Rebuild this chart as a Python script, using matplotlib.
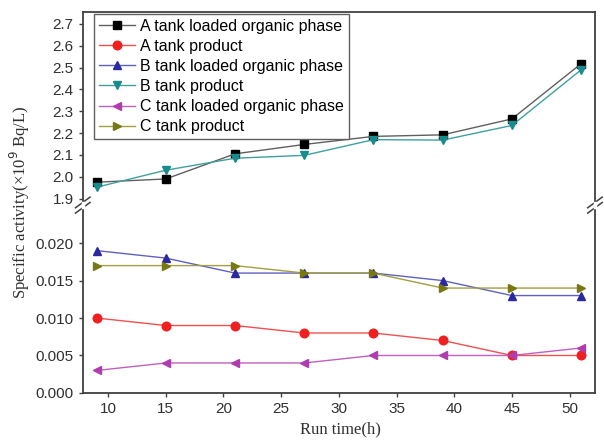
import matplotlib.pyplot as plt
from matplotlib.lines import Line2D

run_time = [9, 15, 21, 27, 33, 39, 45, 51]

a_loaded = [1.975, 1.99, 2.105, 2.148, 2.185, 2.192, 2.265, 2.518]
b_product = [1.952, 2.03, 2.085, 2.098, 2.17, 2.168, 2.235, 2.49]

a_product = [0.010, 0.009, 0.009, 0.008, 0.008, 0.007, 0.005, 0.005]
b_loaded = [0.019, 0.018, 0.016, 0.016, 0.016, 0.015, 0.013, 0.013]
c_loaded = [0.003, 0.004, 0.004, 0.004, 0.005, 0.005, 0.005, 0.006]
c_product = [0.017, 0.017, 0.017, 0.016, 0.016, 0.014, 0.014, 0.014]

labels = ["A tank loaded organic phase", "A tank product",
          "B tank loaded organic phase", "B tank product",
          "C tank loaded organic phase", "C tank product"]
colors = ["black", "#f02020", "#2a2a9c", "#188c8c", "#b03cb0", "#787810"]
lcolors = ["#606060", "#f05050", "#6060c0", "#40a0a0", "#c060c0", "#a0a040"]
markers = ["s", "o", "^", "v", "<", ">"]
msize = 6.2

plt.rcParams["font.family"] = "Liberation Sans"
plt.rcParams["font.size"] = 10.5

fig = plt.figure(figsize=(6.04, 4.44), dpi=100)
left, right = 0.137, 0.985
y_bot, y_mid, y_top = 0.115, 0.538, 0.973
ax_top = fig.add_axes([left, y_mid, right - left, y_top - y_mid])
ax_bot = fig.add_axes([left, y_bot, right - left, y_mid - y_bot])

series_top = {0: a_loaded, 3: b_product}
series_bot = {1: a_product, 2: b_loaded, 4: c_loaded, 5: c_product}

for i, ys in series_top.items():
    ax_top.plot(run_time, ys, color=lcolors[i], lw=1, marker=markers[i],
                mfc=colors[i], mec=colors[i], ms=msize)
for i, ys in series_bot.items():
    ax_bot.plot(run_time, ys, color=lcolors[i], lw=1, marker=markers[i],
                mfc=colors[i], mec=colors[i], ms=msize)

for ax in (ax_top, ax_bot):
    ax.set_xlim(7.8, 52.2)
    for s in ax.spines.values():
        s.set_color("#404040")
        s.set_linewidth(1.3)
    ax.tick_params(direction="out", length=3, width=1, colors="#404040",
                   labelcolor="#303030", labelsize=11)

ax_top.set_ylim(1.87, 2.755)
ax_top.set_yticks([1.9, 2.0, 2.1, 2.2, 2.3, 2.4, 2.5, 2.6, 2.7])
ax_top.spines["bottom"].set_visible(False)
ax_top.tick_params(axis="x", bottom=False, labelbottom=False)

ax_bot.set_ylim(0, 0.02507)
ax_bot.set_yticks([0.000, 0.005, 0.010, 0.015, 0.020])
ax_bot.set_yticklabels(["0.000", "0.005", "0.010", "0.015", "0.020"])
ax_bot.spines["top"].set_visible(False)
ax_bot.set_xticks([10, 15, 20, 25, 30, 35, 40, 45, 50])

# break marks
for xb in (left, right):
    for dy in (-0.006, 0.006):
        fig.add_artist(Line2D([xb - 0.012, xb + 0.012],
                              [y_mid + dy - 0.012, y_mid + dy + 0.012],
                              color="#404040", lw=1.1))
    fig.add_artist(Line2D([xb, xb], [y_mid - 0.005, y_mid + 0.005],
                          color="white", lw=2.5))

handles = [Line2D([], [], color=lcolors[i], lw=1, marker=markers[i],
                  mfc=colors[i], mec=colors[i], ms=msize) for i in range(6)]
leg = ax_top.legend(handles, labels, loc="upper left", bbox_to_anchor=(0.018, 1.0),
                    fancybox=False, edgecolor="#606060", framealpha=1,
                    fontsize=11.5, handlelength=2.3, labelspacing=0.32,
                    borderpad=0.3, handletextpad=0.3, borderaxespad=0.12)
leg.get_frame().set_linewidth(1)

fig.text(0.033, (y_bot + y_top) / 2, "Specific activity(\u00d710$^9$ Bq/L)",
         rotation=90, ha="center", va="center", family="Liberation Serif",
         fontsize=12, color="#303030")
fig.text(0.563, 0.015, "Run time(h)", ha="center", va="bottom",
         family="Liberation Serif", fontsize=12, color="#303030")

fig.savefig("out.png", dpi=100)
